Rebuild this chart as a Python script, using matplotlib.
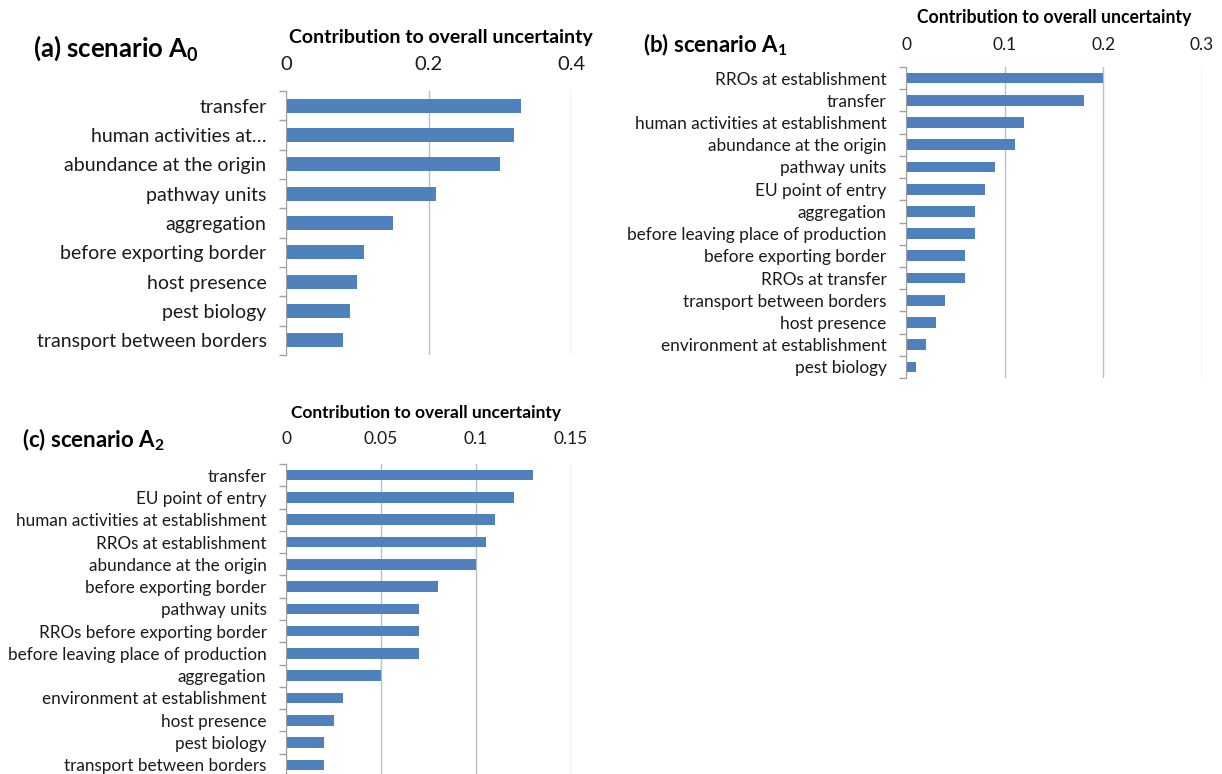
import numpy as np
import matplotlib
matplotlib.use("Agg")
import matplotlib.pyplot as plt

plt.rcParams['font.family'] = ['Lato', 'DejaVu Sans']

# --- data ---
labels_a = ['transfer', 'human activities at\u2026', 'abundance at the origin', 'pathway units',
            'aggregation', 'before exporting border', 'host presence', 'pest biology',
            'transport between borders']
values_a = [0.33, 0.32, 0.30, 0.21, 0.15, 0.11, 0.10, 0.09, 0.08]

labels_b = ['RROs at establishment', 'transfer', 'human activities at establishment',
            'abundance at the origin', 'pathway units', 'EU point of entry', 'aggregation',
            'before leaving place of production', 'before exporting border', 'RROs at transfer',
            'transport between borders', 'host presence', 'environment at establishment',
            'pest biology']
values_b = [0.20, 0.18, 0.12, 0.11, 0.09, 0.08, 0.07, 0.07, 0.06, 0.06, 0.04, 0.03, 0.02, 0.01]

labels_c = ['transfer', 'EU point of entry', 'human activities at establishment',
            'RROs at establishment', 'abundance at the origin', 'before exporting border',
            'pathway units', 'RROs before exporting border', 'before leaving place of production',
            'aggregation', 'environment at establishment', 'host presence', 'pest biology',
            'transport between borders']
values_c = [0.13, 0.12, 0.11, 0.105, 0.10, 0.08, 0.07, 0.07, 0.07, 0.05, 0.03, 0.025, 0.02, 0.02]

W, H = 1222, 774
BAR = '#4F81BD'
GRID = '#BEBEBE'

fig = plt.figure(figsize=(W / 100, H / 100), dpi=100)


def add_ax(left, top, right, bottom):
    # pixel box -> figure fraction
    return fig.add_axes([left / W, 1 - bottom / H, (right - left) / W, (bottom - top) / H])


def panel(ax, labels, values, xmax, xticks, xticklabels, ylab_size, xtick_size, xpad):
    n = len(labels)
    y = np.arange(n)
    ax.barh(y, values, height=0.48, color=BAR, zorder=3)
    ax.set_ylim(n - 0.5, -0.5)
    ax.set_xlim(0, xmax)
    ax.set_xticks(xticks)
    ax.set_xticklabels(xticklabels)
    ax.xaxis.tick_top()
    ax.tick_params(axis='x', length=0, labelsize=xtick_size, pad=xpad, colors='#1a1a1a')
    ax.set_yticks(y)
    ax.set_yticklabels(labels)
    ax.set_yticks(np.arange(n + 1) - 0.5, minor=True)
    ax.tick_params(axis='y', which='major', length=0, labelsize=ylab_size, pad=14,
                   colors='#1a1a1a')
    ax.tick_params(axis='y', which='minor', length=5, color='#A0A0A0', width=1)
    ax.grid(axis='x', color=GRID, linewidth=1, zorder=0)
    for s in ['top', 'right', 'bottom']:
        ax.spines[s].set_visible(False)
    ax.spines['left'].set_color('#A0A0A0')
    ax.spines['left'].set_zorder(4)


# (a) scenario A0
ax_a = add_ax(286, 91, 571, 355)
panel(ax_a, labels_a, values_a, 0.4, [0, 0.2, 0.4], ['0', '0.2', '0.4'], 14, 14.5, 13)
fig.text(33 / W, 1 - 48 / H, r'(a) scenario A$_\mathregular{0}$', fontsize=18.5,
         fontweight='bold', ha='left', va='center')
fig.text(441 / W, 1 - 37 / H, 'Contribution to overall uncertainty', fontsize=14,
         fontweight='bold', ha='center', va='center')

# (b) scenario A1
ax_b = add_ax(906, 67, 1202, 378)
panel(ax_b, labels_b, values_b, 0.3, [0, 0.1, 0.2, 0.3], ['0', '0.1', '0.2', '0.3'],
      12.4, 12.5, 10)
fig.text(643 / W, 1 - 45 / H, r'(b) scenario A$_\mathregular{1}$', fontsize=16,
         fontweight='bold', ha='left', va='center')
fig.text(1054 / W, 1 - 18 / H, 'Contribution to overall uncertainty', fontsize=12.7,
         fontweight='bold', ha='center', va='center')

# (c) scenario A2
ax_c = add_ax(286, 464, 571, 776)
panel(ax_c, labels_c, values_c, 0.15, [0, 0.05, 0.1, 0.15], ['0', '0.05', '0.1', '0.15'],
      12.3, 12.5, 12)
fig.text(22 / W, 1 - 440 / H, r'(c) scenario A$_\mathregular{2}$', fontsize=16,
         fontweight='bold', ha='left', va='center')
fig.text(426 / W, 1 - 413 / H, 'Contribution to overall uncertainty', fontsize=12.5,
         fontweight='bold', ha='center', va='center')

fig.savefig('out.png', dpi=100)
